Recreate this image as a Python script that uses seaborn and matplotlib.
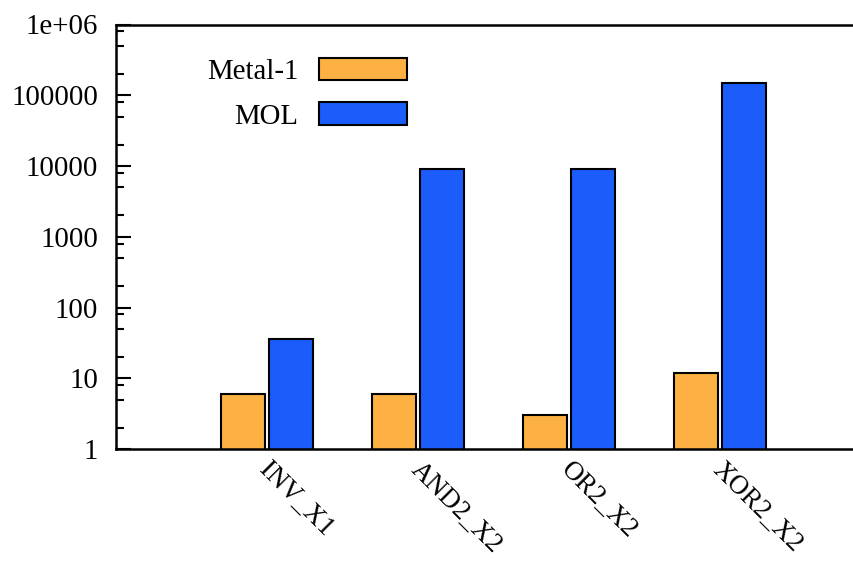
import matplotlib
matplotlib.use("Agg")
import matplotlib.pyplot as plt
import matplotlib.transforms as mtransforms
import numpy as np
import pandas as pd
import seaborn as sns
from matplotlib.patches import Patch
from matplotlib.ticker import FixedLocator, LogLocator, NullFormatter

# values (log scale)
cells = ["INV_X1", "AND2_X2", "OR2_X2", "XOR2_X2"]
metal1 = [6, 6, 3, 12]
mol = [36, 9200, 9200, 148000]
series_names = ["Metal-1", "MOL"]
series_colors = ["#FDB143", "#1B5CFB"]
y_ticks = [1, 10, 100, 1000, 10000, 100000, 1000000]
y_tick_labels = ["1", "10", "100", "1000", "10000", "100000", "1e+06"]

pos = np.arange(1, len(cells) + 1)
df = pd.DataFrame({
    "pos": np.concatenate([pos, pos]),
    "count": metal1 + mol,
    "layer": [series_names[0]] * len(cells) + [series_names[1]] * len(cells),
})

FS = 20.8
sns.set_style("white")
plt.rcParams["font.family"] = ["Liberation Serif", "DejaVu Serif"]
plt.rcParams["font.size"] = FS
plt.rcParams["text.color"] = "black"
plt.rcParams["xtick.color"] = "black"
plt.rcParams["ytick.color"] = "black"

fig = plt.figure(figsize=(8.54, 5.63), dpi=100)
ax = fig.add_axes([116 / 854, 114 / 563, 755 / 854, 424.5 / 563])

sns.barplot(
    data=df, x="pos", y="count", hue="layer",
    palette=series_colors, saturation=1, native_scale=True,
    width=0.63, gap=0.08,
    edgecolor="black", linewidth=1.5,
    legend=False, ax=ax,
)
ax.set_yscale("log")

ax.set_xlim(0, 5)
ax.set_ylim(1, 1e6)
ax.set_xlabel("")
ax.set_ylabel("")

# y axis: major decades + minor ticks at 2, 5, 8
ax.yaxis.set_major_locator(FixedLocator(y_ticks))
ax.set_yticklabels(y_tick_labels)
ax.yaxis.set_minor_locator(LogLocator(base=10, subs=[2, 5, 8]))
ax.yaxis.set_minor_formatter(NullFormatter())
ax.tick_params(axis="y", which="major", direction="in", length=10.8, width=1.5,
               pad=13, left=True, right=True, labelsize=FS)
ax.tick_params(axis="y", which="minor", direction="in", length=5.5, width=1.5,
               left=True, right=True)

ax.set_xticks(pos)
ax.set_xticklabels(cells, rotation=-45, ha="left", va="top",
                   rotation_mode="anchor", fontsize=19.3)
ax.tick_params(axis="x", length=0, pad=6)
shift = mtransforms.ScaledTranslation(5 / 100, 0, fig.dpi_scale_trans)
for lbl in ax.get_xticklabels():
    lbl.set_transform(lbl.get_transform() + shift)

for side in ["left", "right", "top", "bottom"]:
    ax.spines[side].set_visible(True)
    ax.spines[side].set_color("black")
    ax.spines[side].set_linewidth(1.8)

handles = [Patch(facecolor=c, edgecolor="black", linewidth=1.5) for c in series_colors]
ax.legend(handles, series_names, loc="upper right",
          bbox_to_anchor=((407 - 116) / 755, (449 - 58) / 424.5),
          frameon=False, markerfirst=False, borderpad=0, borderaxespad=0,
          handlelength=3.05, handleheight=0.8, handletextpad=0.7,
          labelspacing=0.6, fontsize=FS)

fig.savefig("out.png", dpi=100)
